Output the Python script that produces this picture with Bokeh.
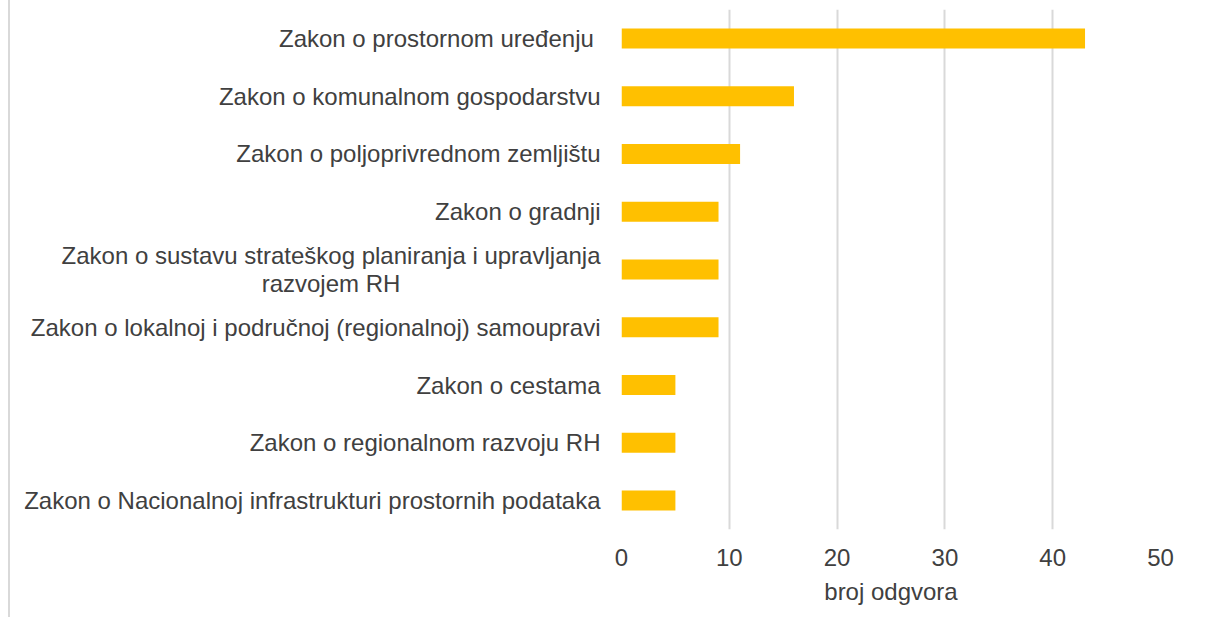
from bokeh.plotting import figure
from bokeh.models import Range1d, FactorRange, FixedTicker, ColumnDataSource
from bokeh.core.properties import value
from bokeh.embed import file_html
from bokeh.resources import INLINE

categories = [
    "Zakon o prostornom uređenju ",
    "Zakon o komunalnom gospodarstvu",
    "Zakon o poljoprivrednom zemljištu",
    "Zakon o gradnji",
    "Zakon o sustavu strateškog planiranja i upravljanja\nrazvojem RH",
    "Zakon o lokalnoj i područnoj (regionalnoj) samoupravi",
    "Zakon o cestama",
    "Zakon o regionalnom razvoju RH",
    "Zakon o Nacionalnoj infrastrukturi prostornih podataka",
]
values = [43, 16, 11, 9, 9, 9, 5, 5, 5]
x_ticks = [0, 10, 20, 30, 40, 50]
x_title = "broj odgvora"

FONT = "Liberation Sans"
TXT = "#404040"

src = ColumnDataSource(dict(cat=categories, val=values, zero=[0] * len(values)))

p = figure(
    y_range=FactorRange(factors=list(reversed(categories))),
    x_range=Range1d(0, 50),
    frame_width=539, frame_height=520,
    min_border_left=611, min_border_right=38, min_border_top=9, min_border_bottom=88,
    output_backend="svg", toolbar_location=None,
)
p.styles = {"border-left": "2px solid #d9d9d9", "margin-left": "8px"}

p.hbar(y="cat", right="val", left=0, height=0.346, source=src,
       fill_color="#FFC000", line_color=None)

p.outline_line_color = None
p.background_fill_color = "white"
p.border_fill_color = "white"

p.xgrid.ticker = FixedTicker(ticks=x_ticks)
p.xgrid.grid_line_color = "#d9d9d9"
p.xgrid.grid_line_width = 2
p.ygrid.grid_line_color = None

p.xaxis.ticker = FixedTicker(ticks=x_ticks)
p.xaxis.axis_line_color = None
p.xaxis.major_tick_line_color = None
p.xaxis.minor_tick_line_color = None
p.xaxis.major_label_standoff = 13
p.xaxis.major_label_text_font = FONT
p.xaxis.major_label_text_font_size = "24px"
p.xaxis.major_label_text_color = TXT
p.xaxis.axis_label = x_title
p.xaxis.axis_label_text_font = FONT
p.xaxis.axis_label_text_font_size = "24px"
p.xaxis.axis_label_text_font_style = "normal"
p.xaxis.axis_label_text_color = TXT
p.xaxis.axis_label_standoff = 9

# category labels: drawn as text at the left of the frame, each block
# right-anchored with its lines centred (as in the original)
p.yaxis.visible = False
p.y_range.range_padding = 0
p.text(x="zero", y="cat", text="cat", source=src, x_offset=-21,
       anchor=value("center_right"), text_align="center",
       text_font=value(FONT), text_font_size="24px", text_color=TXT,
       text_line_height=1.05, level="overlay")

open("out.html", "w").write(file_html(p, INLINE))
